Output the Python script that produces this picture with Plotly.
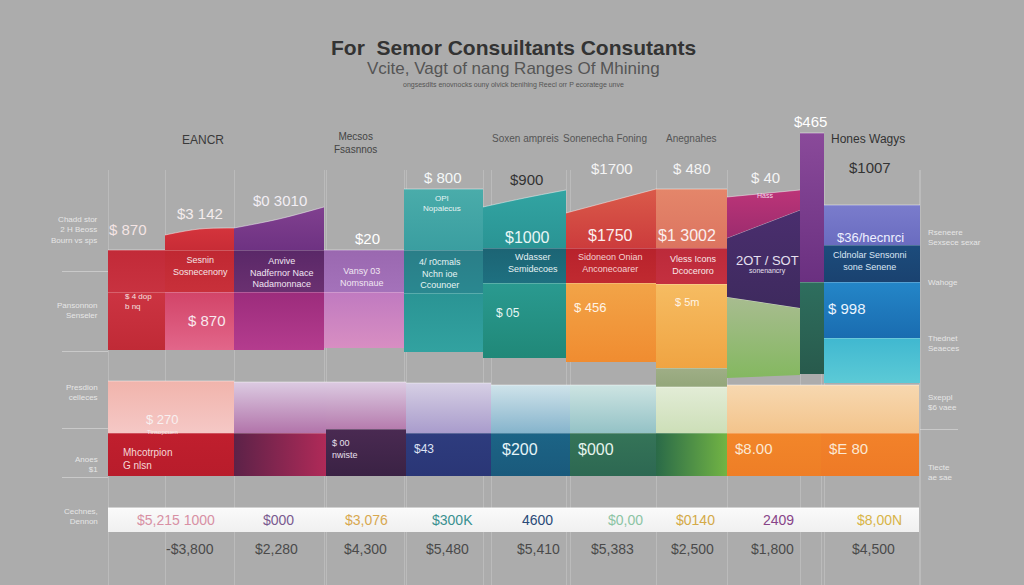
import plotly.graph_objects as go

# ---------------- DATA ----------------
# Upper block columns (11 columns)
upper_names = ["EANCR", "Sesnin", "Anvive", "Mecsos", "4/ r0cmals", "Soxen ampreis",
               "Sonenecha Foning", "Anegnahes", "2OT / SOT", "$465", "Hones Wagys"]
# stacked tier boundaries (value units); tuples = (left, right) or (left, mid, right)
strip_vals = [None, None, None, None, None, None, None, 90, None, None, None]
base_vals  = [127, 127, 127, 129, 125, 119, 115, 109, (99, 102), 103, 94]
tier1_vals = [185, 185, 185, 185, 184, 194, 194, 193, (180, 169), 195, 139]
tier2_vals = [227, 227, 227, 227, 227, 229, 229, 229, (239, 267), 344, 195]
tier3_vals = [None, (242, 248, 249), (249, 258, 270), None, 288, (270, 279, 287),
              (264, 276, 288), 288, (280, 287), None, 232]
tier4_vals = [None, None, None, None, None, None, None, None, None, None, 272]

# Lower band (9 columns)
lower_names = ["Red", "Magenta", "Plum", "Indigo", "Blue", "Teal", "Green", "Orange", "Amber"]
band_top_vals  = [96, 95, 95, 94, 92, 92, 90, 92, 92]
base_top_vals  = [44, 44, 48, 44, 44, 44, 44, 44, 44]

# Text content
title_text = "For  Semor Consuiltants Consutants"
subtitle_text = "Vcite, Vagt of nang Ranges Of Mhining"
smallline_text = "ongsesdlts enovnocks ouny olvick benihing Reecl orr P ecoratege unve"
header_texts = ["EANCR", "Mecsos<br>Fsasnnos", "Soxen ampreis", "Sonenecha Foning", "Anegnahes", "Hones Wagys"]
top_value_texts = ["$ 870", "$3 142", "$0 3010", "$20", "$ 800", "$900", "$1700", "$ 480", "$ 40", "$465", "$1007"]
table_texts = ["$5,215 1000", "$000", "$3,076", "$300K", "4600", "$0,00", "$0140", "2409", "$8,00N"]
footer_texts = ["-$3,800", "$2,280", "$4,300", "$5,480", "$5,410", "$5,383", "$2,500", "$1,800", "$4,500"]
left_texts = ["Chadd stor<br>2 H Beoss<br>Bourn vs sps", "Pansonnon<br>Senseler", "Presdion<br>celleces",
              "Anoes<br>$1", "Cechnes,<br>Dennon"]
right_texts = ["Rseneere<br>Sexsece sexar", "Wahoge", "Thednet<br>Seaeces", "Sxeppl<br>$6 vaee", "Tiecte<br>ae sae"]

# ---------------- LAYOUT / STYLE ----------------
upper_edges = [108, 165, 234, 324, 404, 483, 566, 656, 727, 800, 824, 920]
lower_edges = [108, 234, 326, 406, 491, 570, 656, 727, 821, 919]
left_rules = [206, 126, 49, 0]
right_rules = [48]

strip_colors = [None]*7 + [("#9fae86", "#93a67a")] + [None]*3
tier1_colors = [("#cc3442", "#c02a36"), ("#d24468", "#e2668a"), ("#9c2c7c", "#b43c8e"),
                ("#c07ac0", "#d88ec2"), ("#2a9494", "#32a2a0"), ("#2a9a90", "#208878"),
                ("#f2a448", "#f08c30"), ("#f6bc62", "#f0a442"), ("#a8bc90", "#84b860"),
                ("#2e6e5e", "#285a4c"), ("#40b8d0", "#5ccad6")]
tier2_colors = [("#c22a38", "#c83240"), ("#c02832", "#c8303a"), ("#5a2868", "#6a3070"),
                ("#9a68b0", "#a472ba"), ("#2a7e88", "#2a8890"), ("#1c6474", "#1e7080"),
                ("#b8222c", "#c02a30"), ("#bc2a3a", "#c43040"), ("#4a2e6e", "#3e2a5e"),
                ("#8a4a9a", "#6a3080"), ("#2486c8", "#1a6cb0")]
tier3_colors = [None, ("#d4343c", "#c82c36"), ("#80408f", "#6e3282"), None,
                ("#4aacaa", "#3a9ea0"), ("#32a4a2", "#2a9494"), ("#da5a4a", "#cc3c3c"),
                ("#e4866a", "#dc7460"), ("#bc3478", "#9c2c6e"), None, ("#1c4c7c", "#1a4270")]
tier4_colors = [None]*10 + [("#7a7ccc", "#6a6cc0")]

band_colors = [("#f1b4ac", "#f5c8c6"), ("#dccbe2", "#b274aa"), ("#dccbe2", "#b67cae"),
               ("#d6cfe4", "#a99ccc"), ("#cfe3ea", "#86b4cc"), ("#cde4e2", "#94c2c6"),
               ("#e2ecd6", "#cddfb8"), ("#f7d8b0", "#f3c48c"), ("#f7d8b0", "#f3c48c")]
base_colors = [("v", "#c01f2e", "#b81c2b"), ("h", "#5c2248", "#b02a58"), ("v", "#4a2a52", "#3a2244"),
               ("v", "#2e3c7e", "#2a3676"), ("v", "#1c6486", "#1a5a7c"), ("v", "#357458", "#2d6852"),
               ("h", "#2a6a48", "#72b444"), ("v", "#f2862a", "#ee7e26"), ("v", "#f2822a", "#ee7a26")]

table_colors = ["#d890a4", "#7a5a90", "#d8a850", "#3a9090", "#2a4a78", "#8cc4a4", "#d4aa48", "#884488", "#d8b448"]
BG = "#acacac"
EDGE = "rgba(255,255,255,0.45)"
FONT = "Liberation Sans Narrow, Liberation Sans, Arial, sans-serif"
FONT2 = "Liberation Sans, Arial, sans-serif"

fig = go.Figure()

# empty traces so that the decorative grid subplots get drawn (below the main one)
for ax in ["", "3", "4"]:
    fig.add_trace(go.Scatter(x=[], y=[], xaxis="x" + ax, yaxis="y" + ax,
                             hoverinfo="skip", showlegend=False))


def lr(v):
    if isinstance(v, tuple):
        return v
    return (v, v)


def add_block(x0, x1, bot, top, cols, orient="v", edge=EDGE):
    b = lr(bot)
    t = lr(top)
    fig.add_trace(go.Scatter(x=[x0, x1], y=[b[0], b[-1]], mode="lines", xaxis="x2", yaxis="y2",
                             line=dict(width=0), hoverinfo="skip", showlegend=False))
    if len(t) == 3:
        xs, ys, shape = [x0, (x0 + x1) / 2, x1], list(t), "spline"
    else:
        xs, ys, shape = [x0, x1], list(t), "linear"
    if orient == "h":
        grad = dict(type="horizontal", start=x0, stop=x1,
                    colorscale=[[0, cols[0]], [1, cols[1]]])
    else:
        grad = dict(type="vertical", start=min(b), stop=max(t),
                    colorscale=[[0, cols[1]], [1, cols[0]]])
    fig.add_trace(go.Scatter(x=xs, y=ys, mode="lines", fill="tonexty", xaxis="x2", yaxis="y2",
                             line=dict(width=1, color=edge, shape=shape),
                             fillgradient=grad, hoverinfo="skip", showlegend=False))


# upper blocks
for i in range(len(upper_names)):
    x0, x1 = upper_edges[i], upper_edges[i + 1]
    if strip_vals[i] is not None:
        add_block(x0, x1, strip_vals[i], base_vals[i], strip_colors[i])
    add_block(x0, x1, base_vals[i], tier1_vals[i], tier1_colors[i])
    add_block(x0, x1, tier1_vals[i], tier2_vals[i], tier2_colors[i])
    if tier3_vals[i] is not None:
        t2 = lr(tier2_vals[i])
        add_block(x0, x1, (t2[0], t2[-1]), tier3_vals[i], tier3_colors[i])
    if tier4_vals[i] is not None:
        add_block(x0, x1, tier3_vals[i], tier4_vals[i], tier4_colors[i])

# lower bands
for i in range(len(lower_names)):
    x0, x1 = lower_edges[i], lower_edges[i + 1]
    o, ca, cb = base_colors[i]
    add_block(x0, x1, 1, base_top_vals[i], (ca, cb), orient=o)
    add_block(x0, x1, base_top_vals[i], band_top_vals[i], band_colors[i])

# white table strip
add_block(lower_edges[0], lower_edges[-1], -55, -31, ("#fafafa", "#f0f0f0"), edge="rgba(255,255,255,0.9)")

ann = []


def Y(px):
    return 477 - px


def text(x, ypx, s, size, color, anchor="center", font=FONT, weight=None):
    f = dict(size=size, color=color, family=font)
    if weight:
        f["weight"] = weight
    ann.append(dict(x=x, y=Y(ypx), text=s, showarrow=False, xanchor=anchor,
                    yanchor="middle", font=f, xref="x2", yref="y2",
                    align=anchor if anchor != "center" else "center"))


# titles
text(513, 47, title_text, 21, "#333333", font=FONT2, weight=600)
text(513, 68, subtitle_text, 17, "#555555", font=FONT2)
text(513, 85, smallline_text, 7, "#555555", font=FONT2)

header_pos = [(203, 140), (355, 143), (525, 138), (605, 138), (691, 138), (868, 139)]
header_size = [12, 10, 10, 10, 10, 12]
header_col = ["#3a3a3a", "#444444", "#555555", "#555555", "#555555", "#333333"]
for s, (x, y), sz, c in zip(header_texts, header_pos, header_size, header_col):
    text(x, y, s, sz, c, font=FONT2)

top_pos = [(128, 229), (200, 213), (280, 200), (367, 238), (443, 177), (526, 179),
           (612, 168), (692, 168), (765, 177), (810, 121), (870, 167)]
top_col = ["#f4e4e4", "#f4ecec", "#f2eef4", "#ffffff", "#f4f8f8", "#333333",
           "#f4f4f4", "#f4f4f4", "#f4f4f4", "#ffffff", "#333333"]
for s, (x, y), c in zip(top_value_texts, top_pos, top_col):
    text(x, y, s, 15, c)

# inner block labels
inner = [
    (527, 237, "$1000", 16, "#e8f6f6"), (610, 235, "$1750", 16, "#fbeeee"),
    (687, 235, "$1 3002", 16, "#fbeeee"), (870, 237, "$36/hecnrci", 13, "#eef0ff"),
    (442, 203, "OPI<br>Nopalecus", 8, "#e8f4f4"),
    (200, 266, "Sesnin<br>Sosnecenony", 9, "#f4e6e6"),
    (282, 272, "Anvive<br>Nadfernor Nace<br>Nadamonnace", 9, "#f0e6f2"),
    (362, 277, "Vansy 03<br>Nomsnaue", 9, "#f0e6f2"),
    (440, 273, "4/ r0cmals<br>Nchn ioe<br>Ccounoer", 9, "#e6f4f4"),
    (533, 263, "Wdasser<br>Semidecoes", 9, "#e6f2f4"),
    (610, 263, "Sidoneon Onian<br>Anconecoarer", 9, "#f4d0d0"),
    (693, 265, "Vless Icons<br>Dcoceroro", 9, "#f8e8e8"),
    (767, 260, "2OT / SOT", 13, "#e6e0f0"), (767, 271, "sonenancry", 7, "#e6e0f0"),
    (870, 261, "Cldnolar Sensonni<br>sone Senene", 9, "#dce6f4"),
    (207, 320, "$ 870", 15, "#f8e8ee"), (508, 313, "$ 05", 12, "#e8f6f4"),
    (590, 307, "$ 456", 13, "#fff4e6"), (687, 302, "$ 5m", 11, "#fff4e6"),
    (847, 308, "$ 998", 15, "#eaf4ff"), (765, 195, "Hass", 7, "#f4dcea"),
    (162, 419, "$ 270", 13, "#f8f0f0"), (162, 432, "Tinsopcuen", 6, "#f8f0f0"),
]
for x, y, s, sz, c in inner:
    text(x, y, s, sz, c)

inner_left = [
    (123, 301, "$ 4 dop<br>b nq", 8, "#f4e0e0"),
    (121, 459, "Mhcotrpion<br>G nlsn", 10, "#f4d8d8"),
    (330, 449, "$ 00<br>nwiste", 9, "#e8e0ee"),
    (412, 449, "$43", 12, "#dde2f4"),
    (500, 449, "$200", 16, "#e6f4f8"),
    (576, 449, "$000", 16, "#e6f4ee"),
    (733, 448, "$8.00", 15, "#fbe8d4"),
    (827, 448, "$E 80", 15, "#fbe8d4"),
]
for x, y, s, sz, c in inner_left:
    text(x, y, s, sz, c, anchor="left")

table_x = [176, 278, 366, 452, 537, 625, 695, 778, 879]
for s, x, c in zip(table_texts, table_x, table_colors):
    text(x, 520, s, 14, c)

footer_x = [190, 276, 365, 447, 538, 612, 692, 772, 873]
for s, x in zip(footer_texts, footer_x):
    text(x, 549, s, 14, "#4a4a4a")

left_y = [230, 310, 392, 464, 516]
for s, y in zip(left_texts, left_y):
    text(100, y, s, 8, "#e6e6e6", anchor="right", font=FONT2)
right_y = [237, 282, 343, 402, 472]
for s, y in zip(right_texts, right_y):
    text(926, y, s, 8, "#e6e6e6", anchor="left", font=FONT2)

grid_x = sorted(set(upper_edges + lower_edges))
hidden = dict(showticklabels=False, zeroline=False, ticks="", showline=False, fixedrange=True)
fig.update_layout(
    width=1024, height=585,
    margin=dict(l=0, r=0, t=0, b=0),
    paper_bgcolor=BG, plot_bgcolor="rgba(0,0,0,0)",
    showlegend=False,
    annotations=ann,
    # decorative vertical rules (lower 71% of the figure)
    xaxis=dict(range=[0, 1024], domain=[0, 1], tickvals=grid_x, showgrid=True,
               gridcolor="rgba(255,255,255,0.18)", gridwidth=1, anchor="y", **hidden),
    yaxis=dict(range=[0, 1], domain=[0, 0.71], showgrid=False, anchor="x", **hidden),
    # main chart
    xaxis2=dict(range=[0, 1024], domain=[0, 1], showgrid=False, anchor="y2", **hidden),
    yaxis2=dict(range=[-108, 477], domain=[0, 1], showgrid=False, anchor="x2", **hidden),
    # left rule stubs
    xaxis3=dict(range=[0, 1], domain=[62 / 1024, 108 / 1024], showgrid=False, anchor="y3", **hidden),
    yaxis3=dict(range=[-108, 477], domain=[0, 1], tickvals=left_rules, showgrid=True,
                gridcolor="rgba(255,255,255,0.35)", anchor="x3", **hidden),
    # right rule stub
    xaxis4=dict(range=[0, 1], domain=[920 / 1024, 958 / 1024], showgrid=False, anchor="y4", **hidden),
    yaxis4=dict(range=[-108, 477], domain=[0, 1], tickvals=right_rules, showgrid=True,
                gridcolor="rgba(255,255,255,0.35)", anchor="x4", **hidden),
)

fig.write_html("out.html", config={"displayModeBar": False, "staticPlot": True},
               post_script="document.body.style.margin='0';document.body.style.overflow='hidden';")
